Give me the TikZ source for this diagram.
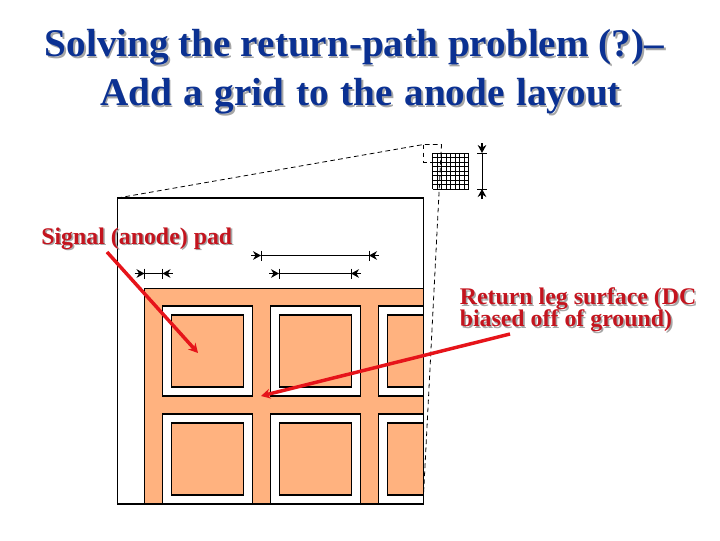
\documentclass[tikz,border=0pt]{standalone}
\usepackage{fontspec}
\setmainfont{Liberation Serif}
\usetikzlibrary{arrows.meta}
\definecolor{padorange}{HTML}{FFB27F}
\definecolor{titleblue}{HTML}{0B3192}
\definecolor{labelred}{HTML}{C4141E}
\definecolor{arrowred}{HTML}{E6141A}
\setlength{\lineskiplimit}{-8pt}
\newcommand{\shadowtxt}[2]{\makebox[0pt][l]{\hspace{1.2pt}\raisebox{-1.2pt}{\color{black!35}#2}}{\color{#1}#2}}
\tikzset{
  wire/.style={draw=black, line width=0.8pt},
  dashwire/.style={draw=black, line width=0.6pt, dash pattern=on 3.5pt off 2.5pt},
  dimline/.style={draw=black, line width=0.7pt},
  dimtip/.style={draw=black, line width=1.2pt, -{Stealth[length=6pt,width=6.5pt]}},
  redarrow/.style={draw=arrowred, line width=2.6pt, -{Stealth[length=7pt,width=7.5pt]}},
  ttl/.style={inner sep=0pt, anchor=center, font=\bfseries\fontsize{29.4}{29.4}\selectfont},
  lbl/.style={inner sep=0pt, anchor=west, align=left, font=\bfseries\fontsize{17.9}{16.5}\selectfont}
}
\begin{document}
\begin{tikzpicture}[x=0.75pt,y=-0.75pt]
  \useasboundingbox (0,0) rectangle (720,540);

  % title
  \node[ttl] (title1) at (354.5,48) {\shadowtxt{titleblue}{Solving the return-path problem (?)--}};
  \node[ttl] (title2) at (360.5,97) {\spaceskip=8.75pt\shadowtxt{titleblue}{Add a grid to the anode layout}};

  % outer box and return leg surface
  \draw[wire, fill=white] (117.5,198) rectangle (423.5,504);
  \fill[padorange] (144.5,288.5) rectangle (423.5,504);
  \draw[wire] (144.5,504) -- (144.5,288.5) -- (423.5,288.5);

  % pads
  \foreach \y in {306,414} {
    \foreach \x in {162.5,270.5} {
      \pgfmathsetmacro{\xr}{\x+90}
      \pgfmathsetmacro{\yb}{min(\y+90,504)}
      \draw[wire, fill=white] (\x,\y) rectangle (\xr,\yb);
      \draw[wire, fill=padorange] (\x+9,\y+9) rectangle (\x+81,\y+81);
    }
    % pads cut off by the box
    \fill[white] (378.5,\y) rectangle (423.5,\y+90);
    \draw[wire] (423.5,\y) -- (378.5,\y) -- (378.5,\y+90) -- (423.5,\y+90);
    \draw[wire, fill=padorange] (423.5,\y+9) -- (387.5,\y+9) -- (387.5,\y+81) -- (423.5,\y+81);
  }
  \draw[wire] (117.5,504) -- (423.5,504) -- (423.5,198);

  % zoom lines
  \coordinate (boxtl) at (117.5,198);
  \coordinate (boxbr) at (423.5,495);
  \coordinate (zoomtl) at (423.5,144.5);
  \coordinate (zoomtr) at (441.5,144.5);
  \coordinate (zoombl) at (423.5,162);
  \coordinate (zoombr) at (441.5,162);
  \draw[dashwire] (boxtl) -- (zoomtl) -- (zoomtr) -- (boxbr);
  \draw[dashwire] (zoomtl) -- (zoombl) -- (zoombr);

  % small grid
  \foreach \i in {0,...,8} {
    \draw[line width=0.6pt] (432.5+\i*4.5,153) -- (432.5+\i*4.5,189);
    \draw[line width=0.6pt] (432.5,153+\i*4.5) -- (468.5,153+\i*4.5);
  }

  % horizontal dimensions
  \foreach \xa/\xb/\y/\n in {144.5/162.5/273.5/a,261/369/255.5/b,279/351/273.5/c} {
    \coordinate (\n l) at (\xa,\y);
    \coordinate (\n r) at (\xb,\y);
    \coordinate (\n lo) at (\xa-10,\y);
    \coordinate (\n ro) at (\xb+10,\y);
    \draw[dimline] (\n l) -- (\n r);
    \draw[dimline] (\xa,\y-5) -- (\xa,\y+5);
    \draw[dimline] (\xb,\y-5) -- (\xb,\y+5);
    \draw[dimtip] (\n lo) -- (\n l);
    \draw[dimtip] (\n ro) -- (\n r);
  }

  % vertical dimension
  \coordinate (vt) at (482,153);
  \coordinate (vb) at (482,189);
  \coordinate (vto) at (482,143);
  \coordinate (vbo) at (482,199);
  \draw[dimline] (vt) -- (vb);
  \draw[dimline] (477,153) -- (487,153);
  \draw[dimline] (477,189) -- (487,189);
  \draw[dimtip] (vto) -- (vt);
  \draw[dimtip] (vbo) -- (vb);

  % labels
  \node[lbl] (signal) at (41,239.5) {\shadowtxt{labelred}{Signal (anode) pad}};
  \node[lbl] (return) at (459.5,310.5) {\shadowtxt{labelred}{Return leg surface (DC}\\\shadowtxt{labelred}{biased off of ground)}};

  % red arrows
  \coordinate (signalfrom) at (107,252);
  \coordinate (signalto) at (198,353);
  \coordinate (returnfrom) at (510,334);
  \coordinate (returnto) at (261,396);
  \draw[redarrow] (signalfrom) -- (signalto);
  \draw[redarrow] (returnfrom) -- (returnto);
\end{tikzpicture}
\end{document}
